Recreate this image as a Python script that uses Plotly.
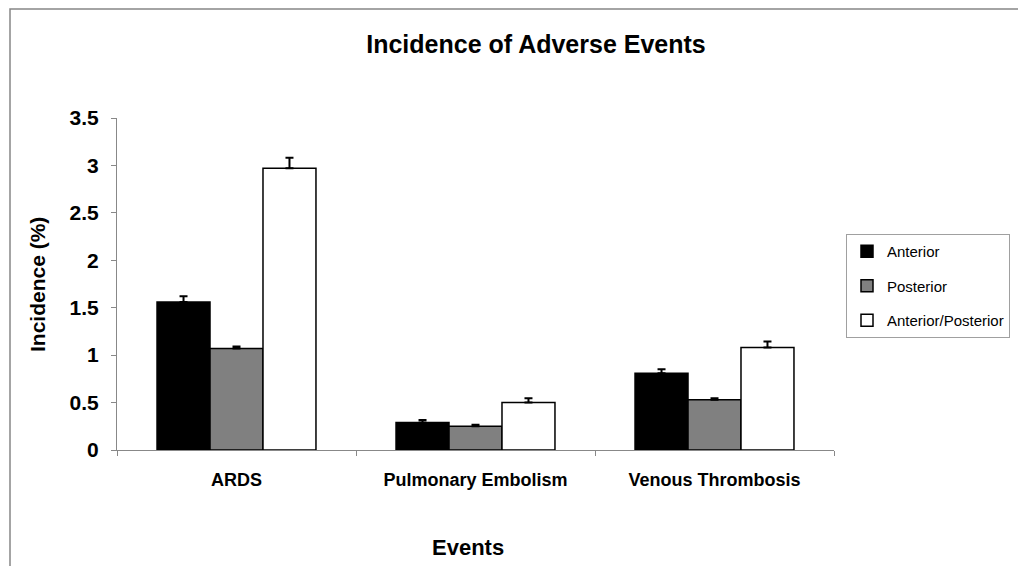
import plotly.graph_objects as go

categories = ["ARDS", "Pulmonary Embolism", "Venous Thrombosis"]
series_names = ["Anterior", "Posterior", "Anterior/Posterior"]
anterior = [1.56, 0.29, 0.81]
posterior = [1.07, 0.25, 0.53]
ant_post = [2.97, 0.50, 1.08]
anterior_err = [0.06, 0.025, 0.04]
posterior_err = [0.02, 0.015, 0.015]
ant_post_err = [0.11, 0.045, 0.065]
y_ticks = [0, 0.5, 1, 1.5, 2, 2.5, 3, 3.5]
y_tick_labels = ["0", "0.5", "1", "1.5", "2", "2.5", "3", "3.5"]
x_title = "Events"
y_title = "Incidence (%)"
chart_title = "Incidence of Adverse Events"

# page has an 8px body margin; figure coordinates = screen coordinates - 8
W, H = 1018, 558
L, R, T, B = 109, 826, 110, 442  # plot area pixel bounds (figure coords)

def px_x(p):
    return (p - L) / (R - L)

def px_y(p):
    return (B - p) / (B - T)

FONT = "Liberation Sans, Arial, sans-serif"
fills = ["#000000", "#808080", "#ffffff"]
vals = [anterior, posterior, ant_post]
errs = [anterior_err, posterior_err, ant_post_err]

fig = go.Figure()
for name, v, e, c in zip(series_names, vals, errs, fills):
    fig.add_trace(go.Bar(
        name=name, x=categories, y=v,
        marker=dict(color=c, line=dict(color="#000000", width=1.5)),
        error_y=dict(type="data", array=e, arrayminus=[0] * len(e), symmetric=False,
                     color="#000000", thickness=2, width=4),
        legendgroup=name,
    ))

fig.update_layout(
    width=W, height=H,
    margin=dict(l=L, r=W - R, t=T, b=H - B, autoexpand=False),
    paper_bgcolor="white", plot_bgcolor="white",
    barmode="group", bargap=0.335, bargroupgap=0,
    font=dict(family=FONT, color="#000000"),
    title=dict(text=chart_title, x=px_x(528), xref="paper", xanchor="center",
               y=1 - 36 / H, yref="container", yanchor="middle",
               font=dict(size=25, weight="bold", family=FONT)),
    showlegend=True,
    legend=dict(x=px_x(838), y=px_y(226), xanchor="left", yanchor="top",
                bordercolor="#a0a0a0", borderwidth=1, bgcolor="white",
                font=dict(size=15, family=FONT), tracegroupgap=12,
                itemclick=False),
    xaxis=dict(showline=True, linecolor="#888888", linewidth=1,
               ticks="outside", tickson="boundaries", ticklen=5, tickcolor="#888888",
               tickfont=dict(size=18, weight="bold", family=FONT), ticklabelstandoff=13,
               showgrid=False, zeroline=False),
    yaxis=dict(range=[0, 3.5], tickvals=y_ticks, ticktext=y_tick_labels,
               showline=True, linecolor="#888888", linewidth=1,
               ticks="outside", ticklen=5, tickcolor="#888888",
               tickfont=dict(size=21, weight="bold", family=FONT), ticklabelstandoff=8,
               showgrid=False, zeroline=False),
    annotations=[
        dict(text=x_title, xref="paper", yref="paper", x=px_x(460), y=px_y(539),
             xanchor="center", yanchor="middle", showarrow=False,
             font=dict(size=22, weight="bold", family=FONT)),
        dict(text=y_title, xref="paper", yref="paper", x=px_x(29), y=px_y(277),
             xanchor="center", yanchor="middle", showarrow=False, textangle=-90,
             font=dict(size=21, weight="bold", family=FONT)),
    ],
    shapes=[dict(type="rect", xref="paper", yref="paper",
                 x0=px_x(2), x1=px_x(W + 20), y0=px_y(H + 20), y1=px_y(1),
                 line=dict(color="#868686", width=1.5), fillcolor="rgba(0,0,0,0)", layer="below")],
)

fig.write_html("out.html")
